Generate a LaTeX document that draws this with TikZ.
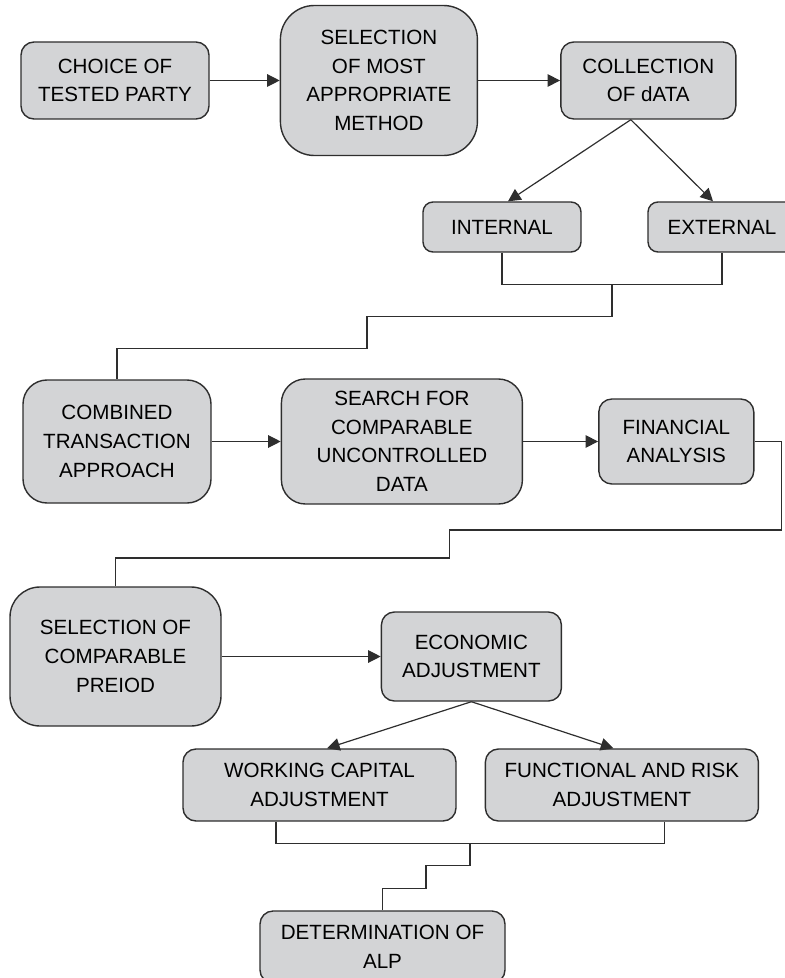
\documentclass[tikz,border=0pt]{standalone}
\usepackage{fontspec}
\setmainfont{Liberation Sans}
\usepackage{xcolor}
\usetikzlibrary{arrows.meta,positioning}
\definecolor{boxgray}{HTML}{D3D4D6}
\definecolor{linegray}{HTML}{2E2E2E}
\tikzset{
    procbox/.style={
        draw=linegray,
        fill=boxgray,
        line width=0.7pt,
        rounded corners=6.5pt,
        align=center,
        inner sep=2pt,
        font=\fontsize{10.3pt}{14.3pt}\selectfont
    },
    link/.style={draw=linegray, line width=0.6pt}
}
\newcommand{\flowbox}[5]{
    \node[procbox, minimum width=#1, minimum height=#2, #3] (#4) {#5};
}

\begin{document}
\begin{tikzpicture}[x=0.5pt,y=-0.5pt,>={Triangle[length=6.3pt,width=6.3pt]}]
    \useasboundingbox (0,0) rectangle (784,978);

    % top row
    \flowbox{94pt}{38.5pt}{at={(115,80.5)}}{choice}{CHOICE OF\\TESTED PARTY}
    \flowbox{98.5pt}{75pt}{right=35pt of choice, rounded corners=17pt}{method}{SELECTION\\OF MOST\\APPROPRIATE\\METHOD}
    \flowbox{87.5pt}{38.5pt}{right=41pt of method}{collect}{COLLECTION\\OF dATA}
    \flowbox{79pt}{25pt}{at={(502,227)}, rounded corners=5pt}{internal}{INTERNAL}
    \flowbox{74pt}{25pt}{at={(722,227)}, rounded corners=5pt}{external}{EXTERNAL}

    % middle row
    \flowbox{94pt}{61.5pt}{at={(117,441.5)}, rounded corners=12pt}{combined}{COMBINED\\TRANSACTION\\APPROACH}
    \flowbox{120.5pt}{62.5pt}{right=34.5pt of combined, rounded corners=12pt}{search}{SEARCH FOR\\COMPARABLE\\UNCONTROLLED\\DATA}
    \flowbox{77.5pt}{42.5pt}{right=37.5pt of search}{finance}{FINANCIAL\\ANALYSIS}

    % bottom part
    \flowbox{105.5pt}{69.5pt}{at={(115.5,656.5)}, rounded corners=15pt}{period}{SELECTION OF\\COMPARABLE\\PREIOD}
    \flowbox{90pt}{44.5pt}{right=79.5pt of period}{economic}{ECONOMIC\\ADJUSTMENT}
    \flowbox{136.5pt}{36pt}{at={(319.5,785)}}{working}{WORKING CAPITAL\\ADJUSTMENT}
    \flowbox{136.5pt}{36pt}{right=14pt of working}{functional}{FUNCTIONAL AND RISK\\ADJUSTMENT}
    \flowbox{122.5pt}{36pt}{at={(382.5,947)}}{alp}{DETERMINATION OF\\ALP}

    % connectors
    \draw[->,link] (choice) -- (method);
    \draw[->,link] (method) -- (collect);
    \coordinate (datasplit) at ([xshift=-8.75pt]collect.south);
    \draw[->,link] (datasplit) -- ([xshift=3pt]internal.north);
    \draw[->,link] (datasplit) -- ([xshift=-4.5pt]external.north);
    \draw[link] (internal.south) |- ++(110,32) coordinate (datajoin) -| (external.south);
    \draw[link] (datajoin) -- ++(0,32) -- ++(-245,0) -- ++(0,32) -| (combined.north);

    \draw[->,link] (combined) -- (search);
    \draw[->,link] (search) -- (finance);
    \draw[link] (finance.east) -- ++(27,0) |- ++(-332,88.5) -- ++(0,28) -| (period.north);

    \draw[->,link] (period) -- (economic);
    \coordinate (adjsplit) at (economic.south);
    \draw[->,link] (adjsplit) -- ([xshift=3.75pt]working.north);
    \draw[->,link] (adjsplit) -- ([xshift=-4.25pt]functional.north);
    \draw[link] ([xshift=-21.75pt]working.south) |- ++(194,22) coordinate (adjjoin) -| ([xshift=21.25pt]functional.south);
    \draw[link] (adjjoin) -- ++(0,22) -- ++(-44,0) -- ++(0,23) -| (alp.north);
\end{tikzpicture}
\end{document}
